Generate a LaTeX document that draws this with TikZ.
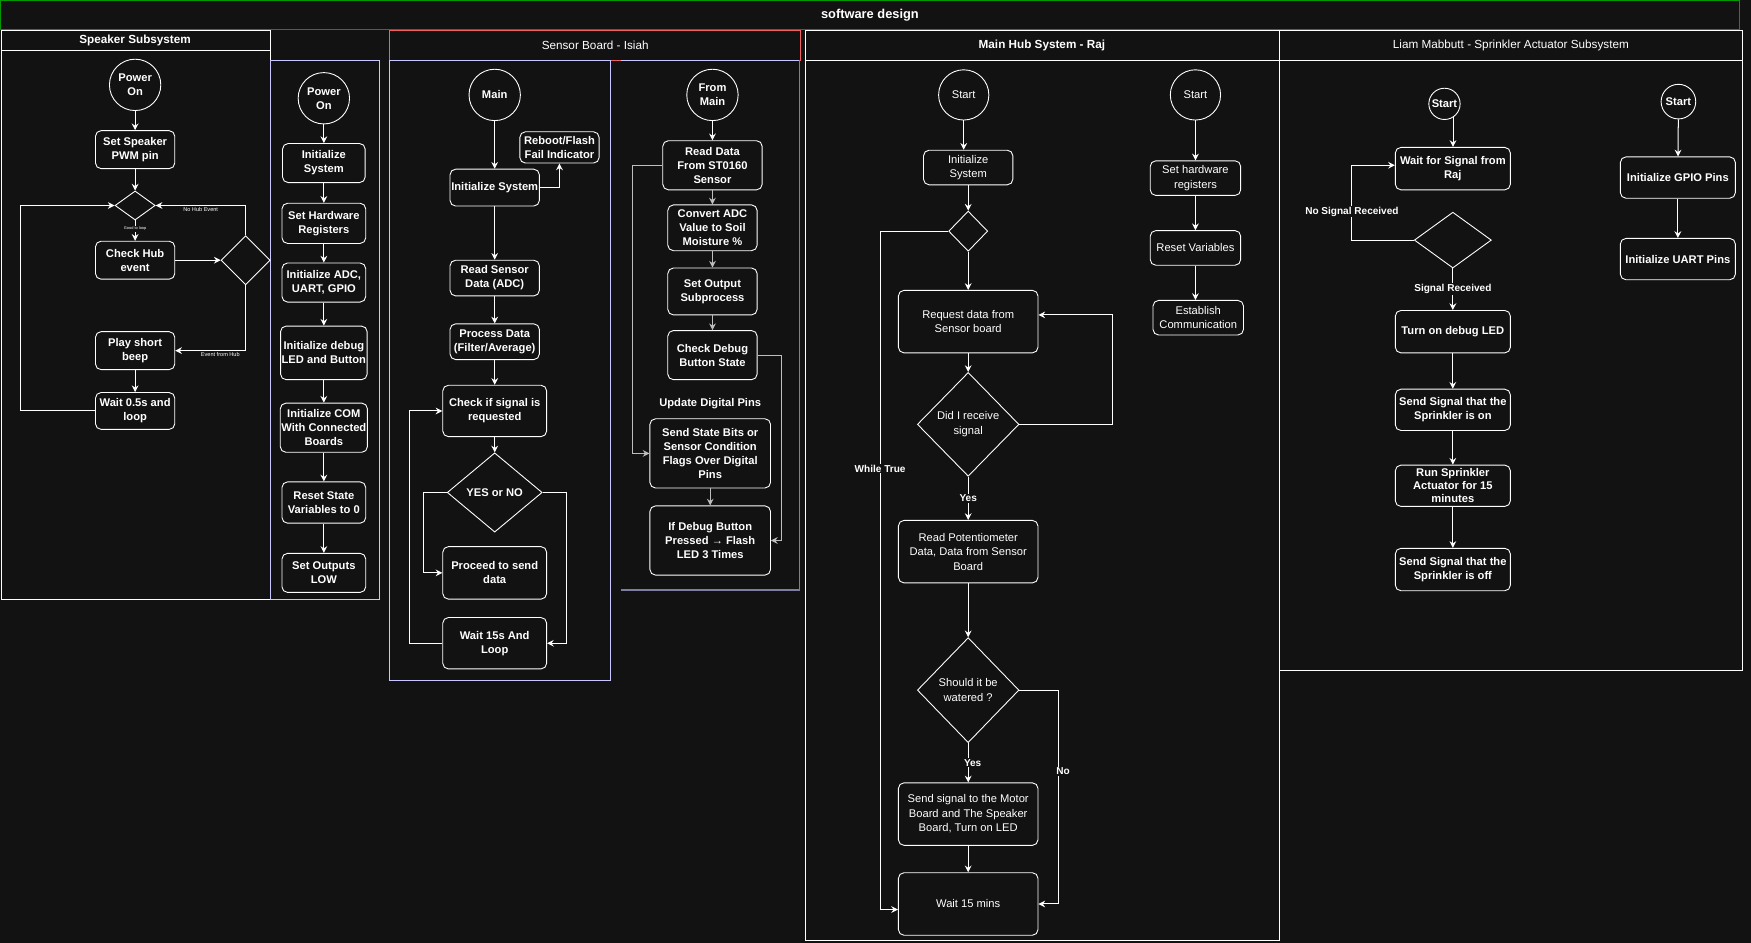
\documentclass[tikz,border=0pt]{standalone}
\usepackage{fontspec}
\setmainfont{Liberation Sans}
\usetikzlibrary{arrows.meta,shapes.geometric}
\definecolor{bgc}{HTML}{121212}
\definecolor{lavl}{RGB}{200,200,255}
\definecolor{dimlav}{RGB}{125,125,160}
\definecolor{redl}{HTML}{F06060}
\definecolor{greenl}{HTML}{009900}
\definecolor{grayl}{RGB}{190,190,190}
\newcommand{\fnttitle}{\fontsize{11.5}{13}\selectfont\bfseries}
\newcommand{\fntheadb}{\fontsize{10.5}{12}\selectfont\bfseries}
\newcommand{\fnthead}{\fontsize{10.5}{12}\selectfont}
\newcommand{\fntnode}{\fontsize{10}{12.5}\selectfont\bfseries}
\newcommand{\fnthub}{\fontsize{10}{13}\selectfont}
\newcommand{\fntlbl}{\fontsize{9}{10}\selectfont\bfseries}
\newcommand{\fntsmall}{\fontsize{5}{6}\selectfont}
\newcommand{\fnttiny}{\fontsize{3.5}{4}\selectfont}
\tikzstyle{arrow} = [draw=white,line width=0.9pt,->,>={Stealth[length=6pt,width=6pt,inset=2pt]}]
\tikzstyle{grayarrow} = [arrow,draw=grayl]
\tikzstyle{box} = [draw=white,rounded corners=5pt,align=center,inner sep=1pt,line width=0.8pt,font=\fntnode]
\tikzstyle{hubbox} = [box,font=\fnthub]
\tikzstyle{term} = [circle,draw=white,align=center,inner sep=0pt,line width=0.8pt,font=\fntnode]
\tikzstyle{decision} = [diamond,draw=white,align=center,inner sep=0pt,line width=0.8pt]
\tikzstyle{lbl} = [fill=bgc,inner sep=1pt,font=\fntlbl]
\tikzstyle{smalllbl} = [inner sep=1pt,font=\fntsmall]
\tikzstyle{lane} = [draw=white,line width=0.8pt]
\tikzset{wh/.style 2 args={minimum width=#1pt,minimum height=#2pt}}

\begin{document}
\begin{tikzpicture}[x=1pt,y=-1pt,color=white]
	\useasboundingbox (0,0) rectangle (1568,844);
	\fill [bgc] (0,0) rectangle (1568,844);

	\draw [greenl,line width=1pt] (0.5,0.5) rectangle (1558,26.5);
	\node (title) at (779,13.5) [font=\fnttitle] {software design};

	\draw [lane] (1,27) rectangle (242,45) (1,45) rectangle (242,537);
	\node (sp_head) at (121,36) [font=\fntheadb] {Speaker Subsystem};
	\draw [lavl,line width=0.8pt] (242,54) rectangle (340,537);
	\draw [redl,line width=0.8pt] (349,27) rectangle (717,54);
	\node (sb_head) at (533,40.5) [font=\fnthead] {Sensor Board - Isiah};
	\draw [lavl,line width=0.8pt] (349,54) rectangle (547,609);
	\draw [lavl,line width=0.8pt] (556,54) -- (716,54);
	\draw [dimlav,line width=1.6pt] (716,54) -- (716,528) -- (556,528);
	\draw [lane] (721,27) rectangle (1146,54) (721,54) rectangle (1146,842);
	\node (mh_head) at (933,40.5) [font=\fntheadb] {Main Hub System - Raj};
	\draw [lane] (1146,27) rectangle (1560,54) (1146,54) rectangle (1560,600);
	\node (lm_head) at (1353,40.5) [font=\fnthead] {Liam Mabbutt - Sprinkler Actuator Subsystem};

	\node (sp_on) at (121,76) [term,minimum size=46pt] {Power\\On};
	\node (sp_pwm) at (121,134) [box,wh={71}{34}] {Set Speaker\\PWM pin};
	\node (sp_d1) at (121,184) [decision,wh={36}{26}] {};
	\node (sp_hub) at (121,233) [box,wh={71}{34}] {Check Hub\\event};
	\node (sp_d2) at (220,233) [decision,wh={44}{44}] {};
	\node (sp_beep) at (121,314) [box,wh={71}{34}] {Play short\\beep};
	\node (sp_wait) at (121,368) [box,wh={71}{33}] {Wait 0.5s and\\loop};
	\draw [arrow] (sp_on) -- (sp_pwm);
	\draw [arrow] (sp_pwm) -- (sp_d1);
	\draw [arrow] (sp_d1) -- node [fill=bgc,inner sep=1pt,font=\fnttiny,pos=0.4] {Good to loop} (sp_hub);
	\draw [arrow] (sp_hub) -- (sp_d2);
	\draw [arrow] (sp_d2.north) |- node [smalllbl,pos=0.75,below] {No Hub Event} (sp_d1.east);
	\draw [arrow] (sp_d2.south) |- node [smalllbl,pos=0.68,below] {Event from Hub} (sp_beep.east);
	\draw [arrow] (sp_beep) -- (sp_wait);
	\draw [arrow] (sp_wait.west) -- ++(-67,0) |- (sp_d1.west);

	\node (c2_on) at (290,88) [term,minimum size=46pt] {Power\\On};
	\node (c2_init) at (290,146) [box,wh={74}{35}] {Initialize\\System};
	\node (c2_hw) at (290,200) [box,wh={75}{36}] {Set Hardware\\Registers};
	\node (c2_adc) at (290,253) [box,wh={75}{35}] {Initialize ADC,\\UART, GPIO};
	\node (c2_dbg) at (290,316) [box,wh={77}{48}] {Initialize debug\\LED and Button};
	\node (c2_com) at (290,383) [box,wh={78}{44}] {Initialize COM\\With Connected\\Boards};
	\node (c2_rst) at (290,450) [box,wh={75}{37}] {Reset State\\Variables to 0};
	\node (c2_out) at (290,513) [box,wh={75}{35}] {Set Outputs\\LOW};
	\foreach \a/\b in {c2_on/c2_init,c2_init/c2_hw,c2_hw/c2_adc,c2_adc/c2_dbg,c2_dbg/c2_com,c2_com/c2_rst,c2_rst/c2_out} {
		\draw [arrow] (\a) -- (\b);
	}

	\node (sb_main) at (443,85) [term,minimum size=46pt] {Main};
	\node (sb_init) at (443,168) [box,wh={80}{33}] {Initialize System};
	\node (sb_boot) at (501,132) [box,wh={71}{28}] {Reboot/Flash\\Fail Indicator};
	\node (sb_read) at (443,249) [box,wh={80}{32}] {Read Sensor\\Data (ADC)};
	\node (sb_proc) at (443,306) [box,wh={80}{32}] {Process Data\\(Filter/Average)};
	\node (sb_chk) at (443,368) [box,wh={93}{46}] {Check if signal is\\requested};
	\node (sb_yn) at (443,441) [decision,wh={85}{71},font=\fntnode] {YES or NO};
	\node (sb_send) at (443,513) [box,wh={93}{47}] {Proceed to send\\data};
	\node (sb_wait) at (443,576) [box,wh={93}{46}] {Wait 15s And\\Loop};
	\foreach \a/\b in {sb_main/sb_init,sb_init/sb_read,sb_read/sb_proc,sb_proc/sb_chk,sb_chk/sb_yn} {
		\draw [arrow] (\a) -- (\b);
	}
	\draw [arrow] (sb_init.east) -| (sb_boot.south);
	\draw [arrow] (sb_yn.west) -- ++(-21,0) |- (sb_send.west);
	\draw [arrow] (sb_yn.east) -- ++(21,0) |- (sb_wait.east);
	\draw [arrow] (sb_wait.west) -- ++(-29,0) |- (sb_chk.west);

	\node (sr_main) at (638,85) [term,minimum size=46pt] {From\\Main};
	\node (sr_read) at (638,148) [box,wh={89}{44}] {Read Data\\From ST0160\\Sensor};
	\node (sr_adc) at (638,204) [box,wh={80}{41}] {Convert ADC\\Value to Soil\\Moisture \%};
	\node (sr_out) at (638,261) [box,wh={80}{42}] {Set Output\\Subprocess};
	\node (sr_btn) at (638,318) [box,wh={80}{44}] {Check Debug\\Button State};
	\node (sr_upd) at (636,361) [font=\fntnode] {Update Digital Pins};
	\node (sr_pins) at (636,406) [box,wh={108}{62}] {Send State Bits or\\Sensor Condition\\Flags Over Digital\\Pins};
	\node (sr_led) at (636,484) [box,wh={108}{62}] {If Debug Button\\Pressed → Flash\\LED 3 Times};
	\draw [arrow] (sr_main) -- (sr_read);
	\foreach \a/\b in {sr_read/sr_adc,sr_adc/sr_out,sr_out/sr_btn,sr_pins/sr_led} {
		\draw [grayarrow] (\a) -- (\b);
	}
	\draw [grayarrow] (sr_read.west) -- ++(-27,0) |- (sr_pins.west);
	\draw [grayarrow] (sr_btn.east) -- ++(21,0) |- (sr_led.east);

	\node (mh_start) at (863,85) [term,minimum size=45pt,font=\fnthub] {Start};
	\node (mh_init) at (867,150) [hubbox,wh={80}{31}] {Initialize\\System};
	\node (mh_loop) at (867,207) [decision,wh={35}{36}] {};
	\node (mh_req) at (867,288) [hubbox,wh={125}{56}] {Request data from\\Sensor board};
	\node (mh_sig) at (867,380) [decision,wh={91}{93},font=\fnthub] {Did I receive\\signal};
	\node (mh_pot) at (867,494) [hubbox,wh={125}{56}] {Read Potentiometer\\Data, Data from Sensor\\Board};
	\node (mh_water) at (867,618) [decision,wh={91}{94},font=\fnthub] {Should it be\\watered ?};
	\node (mh_send) at (867,729) [hubbox,wh={125}{56}] {Send signal to the Motor\\Board and The Speaker\\Board, Turn on LED};
	\node (mh_wait) at (867,809.5) [hubbox,wh={125}{56}] {Wait 15 mins};
	\draw [arrow] (mh_start.south) -- (mh_start.south |- mh_init.north);
	\foreach \a/\b in {mh_init/mh_loop,mh_loop/mh_req,mh_req/mh_sig,mh_pot/mh_water,mh_send/mh_wait} {
		\draw [arrow] (\a) -- (\b);
	}
	\draw [arrow] (mh_sig.east) -- ++(83,0) |- ([yshift=6pt]mh_req.east);
	\draw [arrow] (mh_sig) -- node [lbl,pos=0.5] {Yes} (mh_pot);
	\draw [arrow] (mh_water) -- node [lbl,pos=0.5,xshift=4pt] {Yes} (mh_send);
	\draw [arrow] (mh_water.east) -- ++(35,0) |- node [lbl,pos=0.19,xshift=4pt] {No} (mh_wait.east);
	\draw [arrow] (mh_loop.west) -- ++(-61,0) |- node [lbl,pos=0.175] {While True} ([yshift=-5pt]mh_wait.west);

	\node (mh_start2) at (1070.5,85) [term,minimum size=45pt,font=\fnthub] {Start};
	\node (mh_hw) at (1070.5,159.5) [hubbox,wh={81}{31}] {Set hardware\\registers};
	\node (mh_reset) at (1070.5,222) [hubbox,wh={81}{31}] {Reset Variables};
	\node (mh_comm) at (1073,284.5) [hubbox,wh={81}{31}] {Establish\\Communication};
	\draw [arrow] (mh_start2) -- (mh_hw);
	\draw [arrow] (mh_hw) -- (mh_reset);
	\draw [arrow] (mh_reset) -- (mh_reset |- mh_comm.north);

	\node (lm_start) at (1293.5,93) [term,minimum size=28pt] {Start};
	\node (lm_wait) at (1301,151) [box,wh={103}{38}] {Wait for Signal from\\Raj};
	\node (lm_dec) at (1301,215) [decision,wh={69}{50}] {};
	\node (lm_led) at (1301,297) [box,wh={103}{38}] {Turn on debug LED};
	\node (lm_on) at (1301,367) [box,wh={103}{37}] {Send Signal that the\\Sprinkler is on};
	\node (lm_run) at (1301,435) [box,wh={103}{37},font=\fontsize{10}{11.5}\selectfont\bfseries] {Run Sprinkler\\Actuator for 15\\minutes};
	\node (lm_off) at (1301,510) [box,wh={103}{38}] {Send Signal that the\\Sprinkler is off};
	\draw [arrow] (lm_start.-58) -- (lm_start.-58 |- lm_wait.north);
	\draw [arrow] (lm_dec.west) -- ++(-55.5,0) |- node [lbl,pos=0.19] {No Signal Received} ([yshift=3pt]lm_wait.west);
	\draw [arrow] (lm_dec) -- node [lbl,pos=0.5] {Signal Received} (lm_led);
	\foreach \a/\b in {lm_led/lm_on,lm_on/lm_run,lm_run/lm_off} {
		\draw [arrow] (\a) -- (\b);
	}

	\node (lm_start2) at (1503,91) [term,minimum size=31pt] {Start};
	\node (lm_gpio) at (1502.5,159) [box,wh={103}{37}] {Initialize GPIO Pins};
	\node (lm_uart) at (1502.5,232) [box,wh={103}{37}] {Initialize UART Pins};
	\draw [arrow] (lm_start2) -- (lm_gpio);
	\draw [arrow] (lm_gpio) -- (lm_uart);

\end{tikzpicture}
\end{document}
